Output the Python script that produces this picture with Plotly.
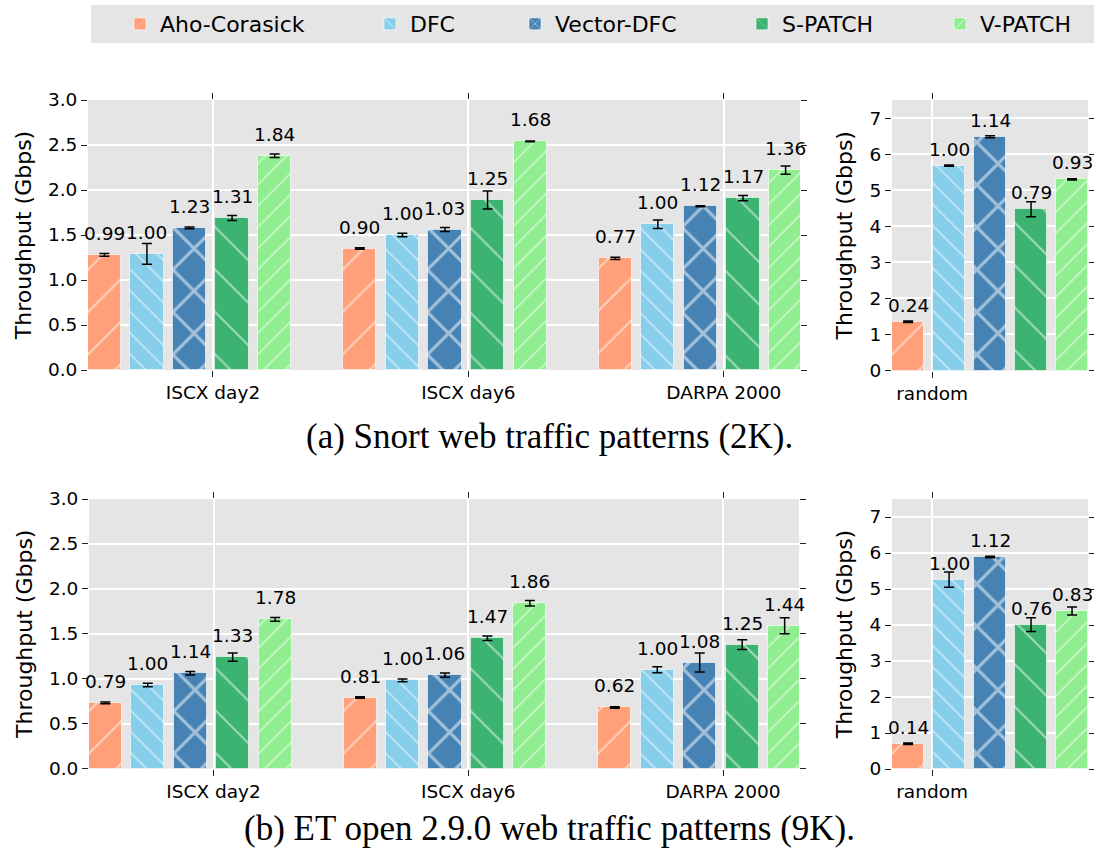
import plotly.graph_objects as go

# ---------------- data ----------------
series = ["Aho-Corasick", "DFC", "Vector-DFC", "S-PATCH", "V-PATCH"]
categories_main = ["ISCX day2", "ISCX day6", "DARPA 2000"]
categories_random = ["random"]

# (a) Snort web traffic patterns (2K) -- throughput (Gbps)
snort_main = [
    [1.28, 1.35, 1.24],   # Aho-Corasick
    [1.29, 1.50, 1.62],   # DFC
    [1.58, 1.56, 1.82],   # Vector-DFC
    [1.69, 1.89, 1.91],   # S-PATCH
    [2.38, 2.54, 2.22],   # V-PATCH
]
snort_main_err = [
    [0.015, 0.008, 0.012],
    [0.115, 0.020, 0.048],
    [0.010, 0.022, 0.006],
    [0.028, 0.100, 0.030],
    [0.020, 0.005, 0.046],
]
snort_main_labels = [
    [0.99, 0.90, 0.77],
    [1.00, 1.00, 1.00],
    [1.23, 1.03, 1.12],
    [1.31, 1.25, 1.17],
    [1.84, 1.68, 1.36],
]
snort_random = [1.35, 5.68, 6.48, 4.47, 5.30]
snort_random_err = [0.02, 0.02, 0.03, 0.21, 0.02]
snort_random_labels = [0.24, 1.00, 1.14, 0.79, 0.93]

# (b) ET open 2.9.0 web traffic patterns (9K)
et_main = [
    [0.73, 0.79, 0.68],
    [0.93, 0.98, 1.10],
    [1.06, 1.04, 1.18],
    [1.24, 1.45, 1.38],
    [1.66, 1.84, 1.59],
]
et_main_err = [
    [0.010, 0.008, 0.008],
    [0.020, 0.015, 0.033],
    [0.020, 0.024, 0.105],
    [0.046, 0.026, 0.054],
    [0.020, 0.030, 0.089],
]
et_main_labels = [
    [0.79, 0.81, 0.62],
    [1.00, 1.00, 1.00],
    [1.14, 1.06, 1.08],
    [1.33, 1.47, 1.25],
    [1.78, 1.86, 1.44],
]
et_random = [0.70, 5.26, 5.89, 4.01, 4.39]
et_random_err = [0.02, 0.21, 0.02, 0.19, 0.11]
et_random_labels = [0.14, 1.00, 1.12, 0.76, 0.83]

captions = ["(a) Snort web traffic patterns (2K).",
            "(b) ET open 2.9.0 web traffic patterns (9K)."]

# ---------------- style ----------------
colors = ["#FFA07A", "#87CEEB", "#4682B4", "#3CB371", "#90EE90"]
hatches = ["/", "\\", "x", "\\", "/"]
hatch_size = [30, 15, 30, 30, 15]
hatch_solid = [0.07, 0.12, 0.2, 0.07, 0.12]
SANS = "DejaVu Sans"
W, H = 1094, 850
BG = "#E5E5E5"

fig = go.Figure()

panels = [
    ("", snort_main, snort_main_err, snort_main_labels, categories_main, -2.55, 9),
    ("2", [[v] for v in snort_random], [[e] for e in snort_random_err],
     [[l] for l in snort_random_labels], categories_random, -0.585, 4),
    ("3", et_main, et_main_err, et_main_labels, categories_main, -2.55, 9),
    ("4", [[v] for v in et_random], [[e] for e in et_random_err],
     [[l] for l in et_random_labels], categories_random, -0.585, 4),
]

annotations = []
for pi, (sfx, data, err, labels, cats, base, lshift) in enumerate(panels):
    xref = "x" + sfx
    yref = "y" + sfx
    for k, name in enumerate(series):
        off = (k + base) / 6.0
        xs = [ci + off for ci in range(len(cats))]
        fig.add_trace(go.Bar(
            x=xs, y=data[k], width=0.13, name=name,
            xaxis=xref, yaxis=yref,
            legend="legend" if k == 0 else f"legend{k+1}",
            showlegend=(pi == 0),
            marker=dict(color=colors[k],
                        line=dict(color="rgba(255,255,255,0.6)", width=1),
                        pattern=dict(shape=hatches[k], fgcolor="white",
                                     size=hatch_size[k], solidity=hatch_solid[k],
                                     fillmode="overlay")),
            error_y=dict(type="data", array=err[k], color="black",
                         thickness=1.5, width=5),
        ))
        for x, v, lab in zip(xs, data[k], labels[k]):
            annotations.append(dict(
                x=x, y=v, xref=xref, yref=yref, text=f"{lab:.2f}",
                showarrow=False, yanchor="bottom", yshift=lshift,
                font=dict(family=SANS, size=18.5, color="black")))

def xd(a, b):
    return [a / W, b / W]

def yd(top, bottom):
    return [1 - bottom / H, 1 - top / H]

axis_common = dict(showline=False, zeroline=False, ticks="outside",
                   ticklen=6, tickcolor="#222", tickwidth=1,
                   mirror="ticks", gridcolor="white", gridwidth=1.5,
                   tickfont=dict(family=SANS, size=18.5, color="black"))

layout_axes = {}
dom = [
    (xd(88, 800), yd(100, 370), [-0.489, 2.298], [0, 3], 0.5, ".1f", categories_main),
    (xd(892, 1088), yd(100, 370.5), [-0.163, 0.634], [0, 7.5], 1, "d", categories_random),
    (xd(89, 799), yd(499, 768.5), [-0.489, 2.298], [0, 3], 0.5, ".1f", categories_main),
    (xd(892, 1088), yd(499, 769), [-0.163, 0.634], [0, 7.5], 1, "d", categories_random),
]
for i, (xdom, ydom, xr, yr, dt, fmt, cats) in enumerate(dom):
    sfx = "" if i == 0 else str(i + 1)
    layout_axes["xaxis" + sfx] = dict(
        domain=xdom, range=xr, anchor="y" + sfx,
        tickvals=list(range(len(cats))), ticktext=cats, **axis_common)
    layout_axes["yaxis" + sfx] = dict(
        domain=ydom, range=yr, anchor="x" + sfx, dtick=dt, tick0=0,
        tickformat=fmt,
        title=dict(text="Throughput (Gbps)",
                   font=dict(family=SANS, size=22, color="black"), standoff=10),
        **axis_common)

for cap, yc in zip(captions, [436, 828]):
    annotations.append(dict(
        x=549 / W, y=1 - yc / H, xref="paper", yref="paper", text=cap,
        showarrow=False, xanchor="center", yanchor="middle",
        font=dict(family="Liberation Serif", size=35, color="black")))

legend_x = [120, 370, 515, 742, 940]
legends = {}
for k, lx in enumerate(legend_x):
    key = "legend" if k == 0 else f"legend{k+1}"
    legends[key] = dict(x=lx / W, y=1 - 24 / H, xanchor="left", yanchor="middle",
                        bgcolor="rgba(0,0,0,0)", borderwidth=0,
                        font=dict(family=SANS, size=22, color="black"),
                        orientation="h")

fig.update_layout(
    width=W, height=H, autosize=False,
    margin=dict(l=0, r=0, t=0, b=0, autoexpand=False),
    paper_bgcolor="white", plot_bgcolor=BG,
    barmode="overlay", bargap=0,
    annotations=annotations,
    shapes=[dict(type="rect", xref="paper", yref="paper",
                 x0=91 / W, x1=1, y0=1 - 43 / H, y1=1 - 5 / H,
                 fillcolor=BG, line=dict(width=0), layer="below")],
    **layout_axes, **legends,
)

fig.write_html("out.html")
